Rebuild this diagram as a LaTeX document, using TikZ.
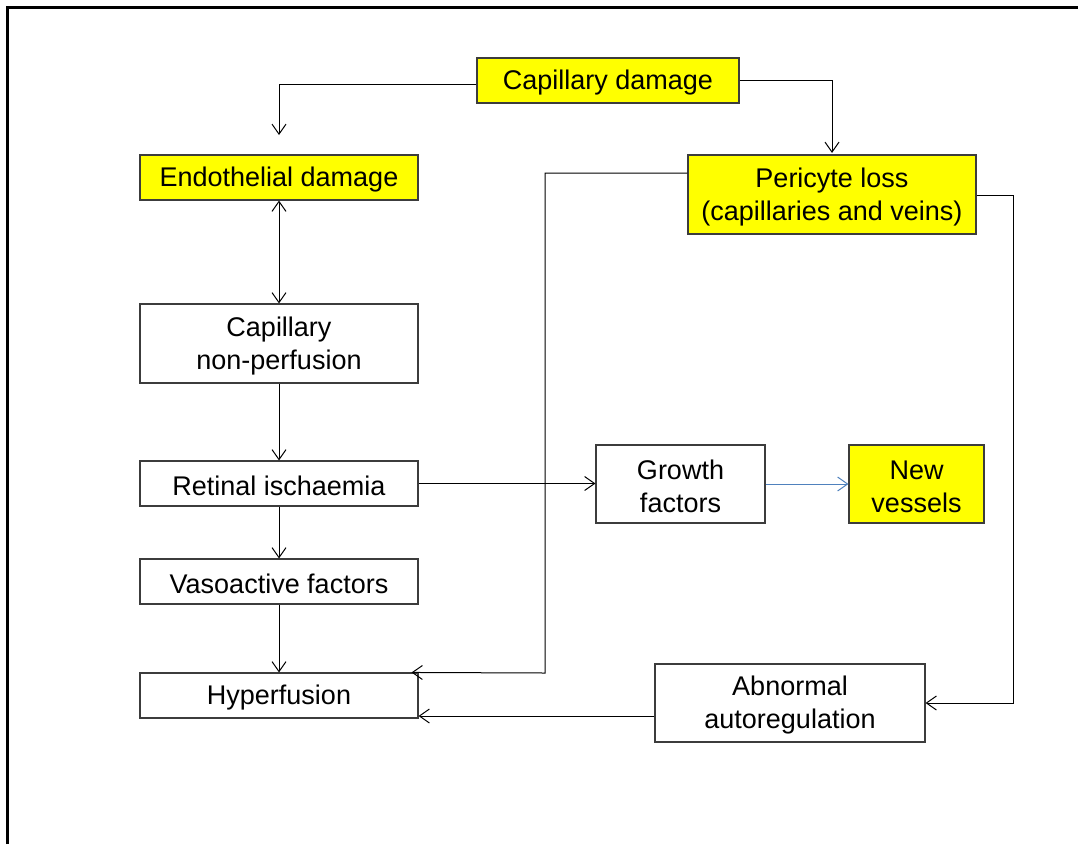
\documentclass[tikz,border=0pt]{standalone}
\usepackage{fontspec}
\setmainfont{Liberation Sans}
\usetikzlibrary{arrows.meta}
\definecolor{boxyellow}{HTML}{FFFF00}
\definecolor{edgegray}{HTML}{3C3C3C}
\definecolor{linkblue}{HTML}{4F81BD}
\begin{document}
\begin{tikzpicture}[x=1pt,y=-1pt,
  lbl/.style={align=center,inner sep=0pt,yshift=-2.5pt,
    font=\fontsize{27}{33}\selectfont},
  box/.style={draw=edgegray,line width=1.1pt,fill=white,inner sep=0pt,
    label={[lbl]center:{#1}}},
  hot/.style={box={#1},fill=boxyellow},
  tip/.style={Straight Barb[length=10pt,width=14pt,line width=1pt]},
  arr/.style={line width=1pt,-{Straight Barb[length=10pt,width=14pt,line width=1pt]}},
  dbl/.style={line width=1pt,{Straight Barb[length=10pt,width=14pt,line width=1pt]}-{Straight Barb[length=10pt,width=14pt,line width=1pt]}}]
\useasboundingbox (0,0) rectangle (1078,844);
% slide frame (top and left edges)
\draw[line width=3pt] (7.5,844) -- (7.5,7.5) -- (1078,7.5);

% boxes
\node[hot={Capillary damage},minimum width=262pt,minimum height=45pt] (cd) at (608,80.5) {};
\node[hot={Endothelial damage},minimum width=278pt,minimum height=45pt] (ed) at (279,177.5) {};
\node[hot={Pericyte loss\\(capillaries and veins)},minimum width=288pt,minimum height=79pt] (pl) at (832,194.5) {};
\node[box={Capillary\\non-perfusion},minimum width=278pt,minimum height=79pt] (cnp) at (279,343.5) {};
\node[box={Retinal ischaemia},minimum width=278pt,minimum height=45pt] (ri) at (279,483.5) {};
\node[box={Vasoactive factors},minimum width=278pt,minimum height=45pt] (vf) at (279,581.5) {};
\node[box={Hyperfusion},minimum width=278pt,minimum height=45pt] (hf) at (279,695.5) {};
\node[box={Growth\\factors},minimum width=169pt,minimum height=78pt] (gf) at (680.5,484) {};
\node[hot={New\\vessels},minimum width=135pt,minimum height=78pt] (nv) at (916.5,484) {};
\node[box={Abnormal\\autoregulation},minimum width=270pt,minimum height=78pt] (ar) at (790,703) {};

% free ends and bends
\coordinate (edtop) at (279,135);
\coordinate (hftop) at ([xshift=-7pt]hf.north east);

% connectors
\draw[arr] ([yshift=-3.5pt]cd.west) -| (edtop);
\draw[arr] (cd.east) -| ([yshift=1.5pt]pl.north);
\draw[dbl] (ed.south) -- (cnp.north);
\draw[arr] (cnp.south) -- (ri.north);
\draw[arr] (ri.south) -- (vf.north);
\draw[arr] (vf.south) -- (hf.north);
\draw[arr] (ri.east) -- (ri.east -| gf.west);
\draw[arr,draw=linkblue] (gf.east) -- (nv.west);
\draw[arr] ([yshift=21.5pt]pl.west) -| (545,673) -- (hftop);
\draw[arr] ([yshift=-0.5pt]pl.east) -| (1013,703) -- (ar.east);
\draw[arr] ([yshift=-13pt]ar.west) -- ([yshift=-20.5pt]hf.east);
\end{tikzpicture}
\end{document}
